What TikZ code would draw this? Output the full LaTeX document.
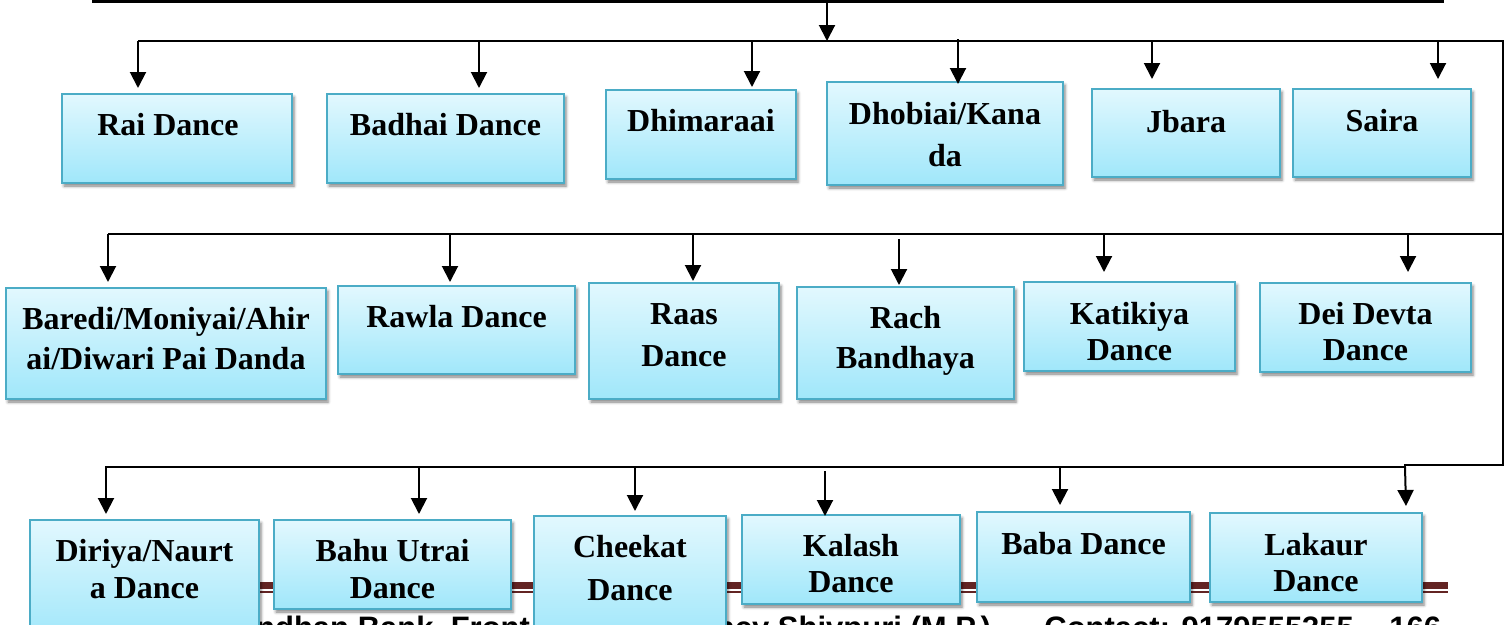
\documentclass[tikz,border=0pt]{standalone}
\usepackage{fontspec}
\setmainfont{Liberation Serif}
\newfontfamily\footfont{Liberation Sans}
\usetikzlibrary{%
  arrows.meta,%
  positioning,% wg. " of "
  shadows.blur%
}
\definecolor{boxline}{RGB}{75,172,198}
\definecolor{boxtop}{RGB}{226,248,254}
\definecolor{boxbot}{RGB}{160,231,250}
\definecolor{footbrown}{RGB}{99,36,35}

\begin{document}
\begin{tikzpicture}
  [
  x=1pt, y=-1pt, line width=2pt,
  arr/.style={-{Triangle[width=16pt,length=16pt]}},
  dance/.style={rectangle, draw=boxline, line width=2pt, top color=boxtop, bottom color=boxbot,
    blur shadow={shadow xshift=2pt, shadow yshift=-3pt, shadow blur radius=3pt, shadow opacity=50}},
  dname/.style={font=\bfseries\fontsize{32}{39}\selectfont, align=center, inner sep=0pt},
  foot/.style={font=\footfont\bfseries\fontsize{31}{36}\selectfont, inner sep=0pt, anchor=base east}
  ]

\useasboundingbox (0,0) rectangle (1505,624);
\clip (0,0) rectangle (1505,624);

% footer of the page, behind the boxes
\draw[footbrown, line width=7pt] (92,585.5) -- (1448,585.5);
\draw[footbrown, line width=1.5pt] (92,592) -- (1448,592);
\node[foot] (foot1) at (531,638) {andhan Bank, Front};
\node[foot] (foot2) at (992,638) {ncy Shivpuri (M.P.)};
\node[foot] (foot3) at (1355,638) {Contact: 9179555355};
\node[foot] (foot4) at (1442,638) {166};

% bus lines
\coordinate (topw) at (92,1.5);
\coordinate (tope) at (1444,1.5);
\coordinate (topm) at (827,3);
\coordinate (b1w) at (138,41);
\coordinate (b1e) at (1503,41);
\coordinate (b2w) at (108,234);
\coordinate (b2e) at (1503,234);
\coordinate (b3w) at (105,467);
\coordinate (b3j) at (1405,467);
\coordinate (b3e) at (1503,465);

\draw[line width=3pt] (topw) -- (tope);
\draw[arr] (topm) -- (topm |- b1w);
\draw (b1w) -- (b1e) -- (b3e) -- (b3j |- b3e) -- (b3j) -- (b3w);
\draw (b2w) -- (b2e);

% row 1
\node[dance, minimum width=230pt, minimum height=89pt] (rai) at (177,138.5) {};
\node[dance, minimum width=237pt, minimum height=89pt] (badhai) at (445.5,138.5) {};
\node[dance, minimum width=190pt, minimum height=89pt] (dhimaraai) at (701,134.5) {};
\node[dance, minimum width=236pt, minimum height=103pt] (dhobiai) at (945,133.5) {};
\node[dance, minimum width=188pt, minimum height=88pt] (jbara) at (1186,133) {};
\node[dance, minimum width=178pt, minimum height=88pt] (saira) at (1382,133) {};

% row 2
\node[dance, minimum width=320pt, minimum height=111pt] (baredi) at (166,343.5) {};
\node[dance, minimum width=237pt, minimum height=88pt] (rawla) at (456.5,330) {};
\node[dance, minimum width=190pt, minimum height=116pt] (raas) at (684,341) {};
\node[dance, minimum width=217pt, minimum height=112pt] (rach) at (905.5,343) {};
\node[dance, minimum width=211pt, minimum height=89pt] (katikiya) at (1129.5,326.5) {};
\node[dance, minimum width=211pt, minimum height=89pt] (deidevta) at (1365.5,327.5) {};

% row 3
\node[dance, minimum width=229pt, minimum height=120pt] (diriya) at (144.5,580) {};
\node[dance, minimum width=237pt, minimum height=89pt] (bahu) at (392.5,564.5) {};
\node[dance, minimum width=192pt, minimum height=124pt] (cheekat) at (630,578) {};
\node[dance, minimum width=218pt, minimum height=89pt] (kalash) at (851,559.5) {};
\node[dance, minimum width=213pt, minimum height=90pt] (baba) at (1083.5,557) {};
\node[dance, minimum width=212pt, minimum height=89pt] (lakaur) at (1316,557.5) {};

% names
\node[dname, below=19pt of rai.north, xshift=-9pt] (raiT) {Rai Dance};
\node[dname, below=19pt of badhai.north] (badhaiT) {Badhai Dance};
\node[dname, below=19pt of dhimaraai.north] (dhimaraaiT) {Dhimaraai};
\node[dname, below=20pt of dhobiai.north] (dhobiaiT) {Dhobiai/Kana\\[3pt]da};
\node[dname, below=21pt of jbara.north] (jbaraT) {Jbara};
\node[dname, below=20pt of saira.north] (sairaT) {Saira};

\node[dname, below=19pt of baredi.north] (barediT) {Baredi/Moniyai/Ahir\\[1pt]ai/Diwari Pai Danda};
\node[dname, below=19pt of rawla.north] (rawlaT) {Rawla Dance};
\node[dname, below=21pt of raas.north] (raasT) {Raas\\[3pt]Dance};
\node[dname, below=19pt of rach.north] (rachT) {Rach\\[1pt]Bandhaya};
\node[dname, below=20pt of katikiya.north] (katikiyaT) {Katikiya\\[-3pt]Dance};
\node[dname, below=19pt of deidevta.north] (deidevtaT) {Dei Devta\\[-3pt]Dance};

\node[dname, below=19pt of diriya.north] (diriyaT) {Diriya/Naurt\\[-2pt]a Dance};
\node[dname, below=19pt of bahu.north] (bahuT) {Bahu Utrai\\[-2pt]Dance};
\node[dname, below=19pt of cheekat.north] (cheekatT) {Cheekat\\[4pt]Dance};
\node[dname, below=19pt of kalash.north] (kalashT) {Kalash\\[-3pt]Dance};
\node[dname, below=20pt of baba.north] (babaT) {Baba Dance};
\node[dname, below=20pt of lakaur.north] (lakaurT) {Lakaur\\[-3pt]Dance};

% arrows: node / x offset / gap above box / gap below bus
\foreach \n/\dx/\gap/\st in {rai/-39/5/0, badhai/33.5/5/0, dhimaraai/51/2/0,
    dhobiai/13/-3/-2, jbara/-34/9/0, saira/56/9/0} {
  \draw[arr] ([xshift=\dx pt]\n.north |- b1w) ++(0,\st) -- ([xshift=\dx pt, yshift=\gap pt]\n.north);
}
\foreach \n/\dx/\gap/\st in {baredi/-58/5/0, rawla/-6.5/3/0, raas/9/1/0,
    rach/-6.5/1/5, katikiya/-25.5/9/0, deidevta/42.5/10/0} {
  \draw[arr] ([xshift=\dx pt]\n.north |- b2w) ++(0,\st) -- ([xshift=\dx pt, yshift=\gap pt]\n.north);
}
\foreach \n/\dx/\gap/\st in {diriya/-38.5/5/0, bahu/26.5/5/0, cheekat/5/4/0,
    kalash/-26/-2/4, baba/-23.5/6/0} {
  \draw[arr] ([xshift=\dx pt]\n.north |- b3w) ++(0,\st) -- ([xshift=\dx pt, yshift=\gap pt]\n.north);
}
\draw[arr] (b3j) -- ([xshift=90pt, yshift=6pt]lakaur.north);

\end{tikzpicture}
\end{document}
